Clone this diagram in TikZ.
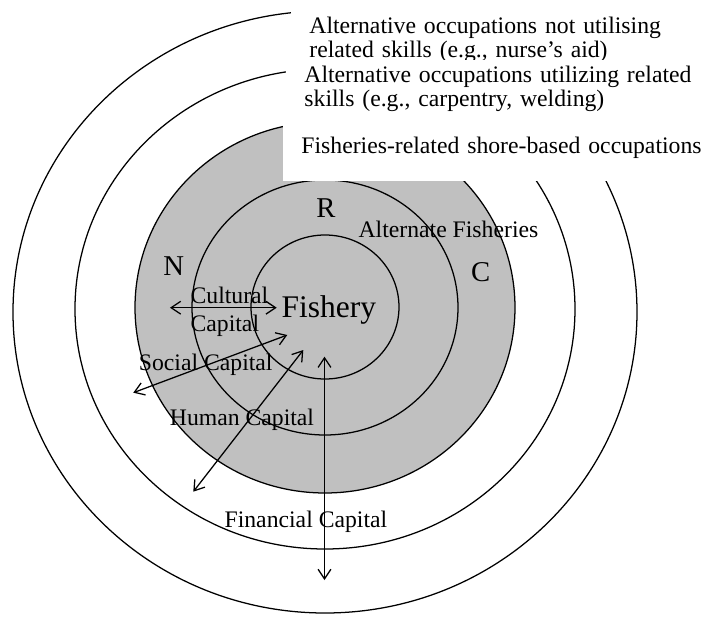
\documentclass[tikz,border=0pt]{standalone}
\usepackage{fontspec}
\setmainfont{Liberation Serif}
\usetikzlibrary{arrows.meta}
\definecolor{shade}{RGB}{192,192,192}

\begin{document}
\begin{tikzpicture}[line width=0.9pt,>={Straight Barb[length=2.4mm,width=3.2mm]},
  ring/.style={draw=black},
  core/.style={draw=black,fill=shade},
  note/.style={fill=white,anchor=north west,inner xsep=0.47cm,text width=10.5cm,
               align=left,font=\fontsize{16.86}{17.07}\selectfont},
  tag/.style={inner sep=0pt,anchor=base west,align=left,
              font=\fontsize{16.86}{19.9}\selectfont},
  big/.style={inner sep=0pt,anchor=base,font=\fontsize{20.4}{24}\selectfont},
  arr/.style={<->}]
\useasboundingbox (-8.125,-7.675) rectangle (9.5,7.725);
\draw[ring] (0,-0.075) ellipse [x radius=7.8,y radius=7.525];
\draw[ring] (0,0) ellipse [x radius=6.25,y radius=6];
\draw[core] (0,0.0375) ellipse [x radius=4.75,y radius=4.6375];
\draw[ring] (0,0.0375) ellipse [x radius=3.325,y radius=3.1875];
\draw[ring] (0,0.05) ellipse [x radius=1.85,y radius=1.8];
\node[inner sep=0pt,anchor=base west,font=\fontsize{22.4}{26}\selectfont] (fish)
  at (-1.1,-0.2) {Fishery};
\node[big] (r) at (0.025,2.2875) {R};
\node[big] (n) at (-3.7825,0.85) {N};
\node[big] (c) at (3.8925,0.6875) {C};
\node[tag] (alt) at (0.825,1.8) {Alternate Fisheries};
\node[tag] (cult) at (-3.375,-0.55) {Cultural\\Capital};
\node[tag] (soc) at (-4.6675,-1.525) {Social Capital};
\node[tag] (hum) at (-3.8925,-2.9) {Human Capital};
\node[tag] (fin) at (-2.525,-5.4575) {Financial Capital};
\coordinate (cul-w) at (-3.875,0.0325);
\coordinate (cul-e) at (-1.2075,0.0325);
\coordinate (soc-w) at (-4.7925,-2.0925);
\coordinate (soc-e) at (-0.9425,-0.65);
\coordinate (hum-w) at (-3.2925,-4.5675);
\coordinate (hum-e) at (-0.5425,-1.025);
\coordinate (fin-n) at (-0.0125,-1.1925);
\coordinate (fin-s) at (-0.0125,-6.775);
\draw[arr] (cul-w)--(cul-e);
\draw[arr] (soc-w)--(soc-e);
\draw[arr] (hum-w)--(hum-e);
\draw[arr] (fin-s)--(fin-n);
\node[note,inner ysep=0.42cm] (occ1) at (-0.875,7.725)
  {Alternative occupations not utilising\\related skills (e.g., nurse’s aid)};
\node[note,inner ysep=0.1575cm] (occ2) at (-1,6.2375)
  {Alternative occupations utilizing related\\skills (e.g., carpentry, welding)};
\node[note,inner ysep=0.5475cm] (occ3) at (-1.075,4.8525)
  {Fisheries-related shore-based occupations};
\end{tikzpicture}
\end{document}
